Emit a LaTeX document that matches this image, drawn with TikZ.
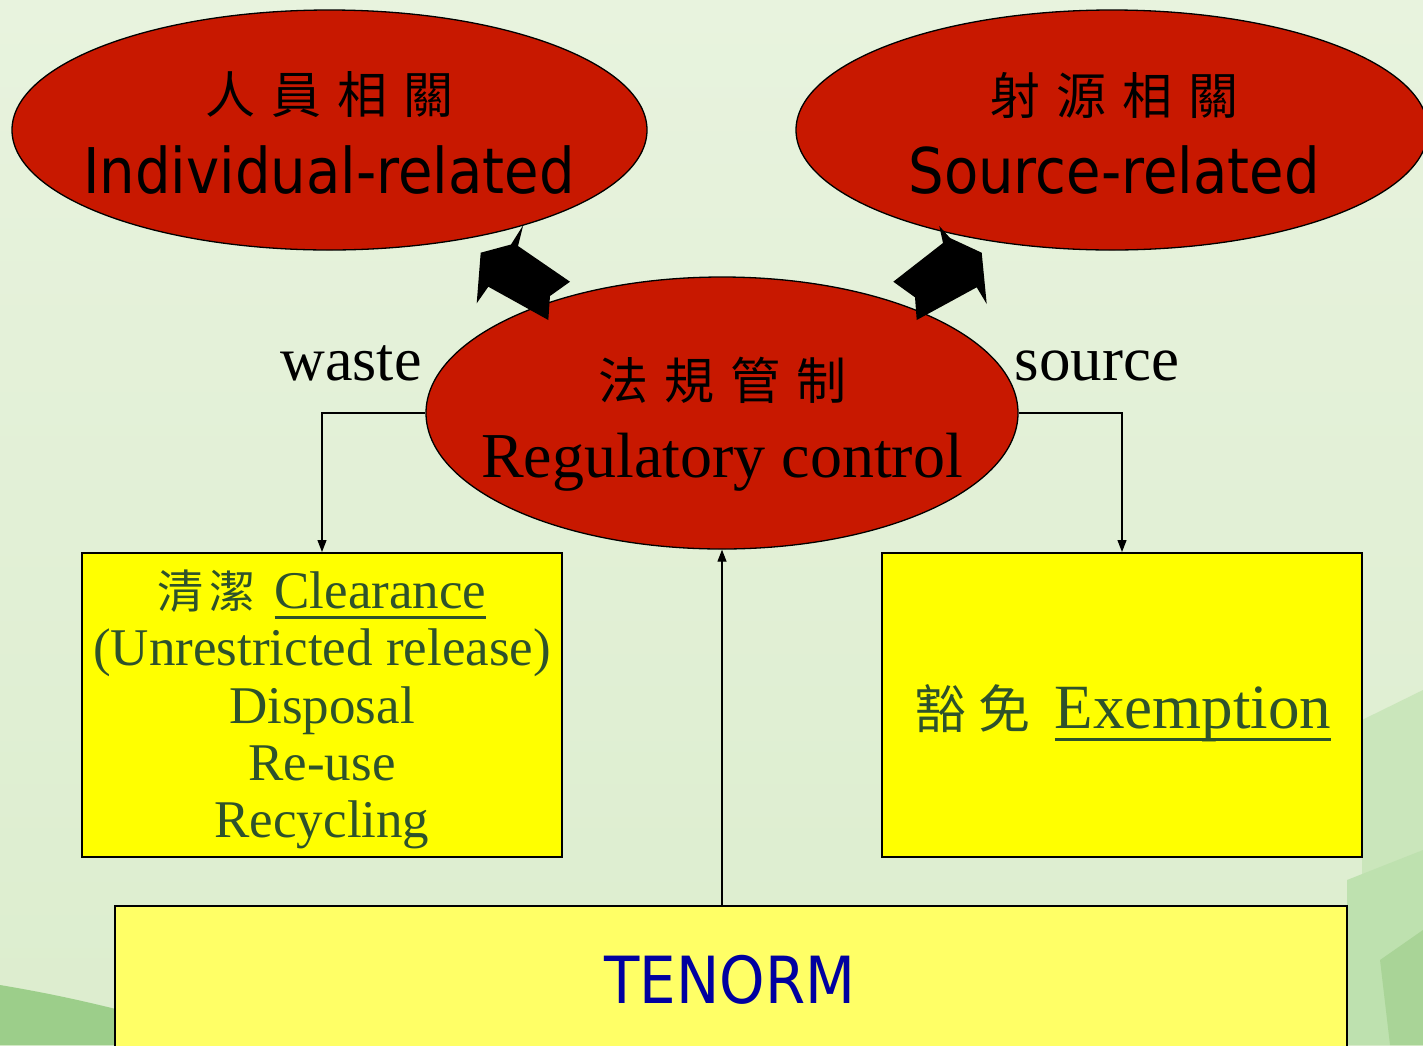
\documentclass[tikz,border=0pt]{standalone}
\usepackage{fontspec}
\setmainfont{Liberation Serif}
\newfontfamily\tah[FakeStretch=0.89]{DejaVu Sans}
\newfontfamily\cjk{Noto Sans CJK TC}
\usetikzlibrary{shapes.geometric,arrows.meta}
\definecolor{ellred}{RGB}{200,24,0}
\definecolor{boxyel}{RGB}{255,255,0}
\definecolor{tenyel}{RGB}{255,255,102}
\definecolor{txtgreen}{RGB}{46,82,44}
\definecolor{tenblue}{RGB}{0,0,160}
\definecolor{bgtop}{RGB}{232,243,222}
\definecolor{bgbot}{RGB}{220,237,206}
\definecolor{decogreen}{RGB}{135,195,115}
\definecolor{decolight}{RGB}{190,225,175}
\newcommand\myul[1]{\setbox0\hbox{#1}\rlap{\rule[-0.21em]{\wd0}{0.05em}}\box0}
\newcommand\fs[1]{\fontsize{#1}{#1}\selectfont}
\begin{document}
\begin{tikzpicture}[x=1pt,y=-1pt,
  ellnode/.style={ellipse, draw=black, line width=1.3pt, fill=ellred, inner sep=0pt},
  boxnode/.style={rectangle, draw=black, line width=2pt, inner sep=0pt},
  conn/.style={draw=black, line width=1.2pt, -{Triangle[length=12pt,width=9pt]}},
  blockarrow/.style={fill=black},
  cjklabel/.style={inner sep=0pt, font=\cjk\fs{50}},
  sanslabel/.style={inner sep=0pt, anchor=base, font=\tah\fs{63}},
  serlabel/.style={inner sep=0pt, anchor=base, font=\fs{64}},
  boxtext/.style={inner sep=0pt, anchor=base, text=txtgreen, font=\fs{53}}]
\useasboundingbox (0,0) rectangle (1423,1045);
\clip (0,0) rectangle (1423,1045);
% background
\shade[top color=bgtop, bottom color=bgbot] (0,0) rectangle (1423,1045);
\fill[decogreen!75!bgbot] (0,985) .. controls (60,995) and (100,1005) .. (140,1015) -- (140,1045) -- (0,1045) -- cycle;
\fill[decolight!60!bgbot] (1362,720) -- (1423,690) -- (1423,850) -- (1362,880) -- cycle;
\fill[decolight] (1347,880) -- (1423,850) -- (1423,1045) -- (1347,1045) -- cycle;
\fill[decogreen!60!bgbot] (1380,960) -- (1423,930) -- (1423,1045) -- (1390,1045) -- cycle;
% ellipses
\node[ellnode, minimum width=635pt, minimum height=240pt] (ind) at (329.5,130) {};
\node[ellnode, minimum width=632pt, minimum height=240pt] (src) at (1112,130) {};
\node[ellnode, minimum width=592pt, minimum height=272pt] (reg) at (722,413) {};
% ellipse texts
\node[cjklabel] (indzh) at (329,95) {人\hspace{16pt}員\hspace{16pt}相\hspace{16pt}關};
\node[sanslabel] (inden) at (329,193) {Individual-related};
\node[cjklabel] (srczh) at (1114,95) {射\hspace{16pt}源\hspace{16pt}相\hspace{16pt}關};
\node[sanslabel] (srcen) at (1114,193) {Source-related};
\node[cjklabel] (regzh) at (722,380) {法\hspace{16pt}規\hspace{16pt}管\hspace{16pt}制};
\node[serlabel] (regen) at (722,477) {Regulatory control};
% block arrows
\fill[blockarrow] (480.7,252.7) -- (511,244.5) -- (523.3,225) -- (518,246) -- (570,281.7) -- (550,296) -- (548.3,320) -- (488.3,286.7) -- (476.7,303.3) -- cycle;
\fill[blockarrow] (939.3,226) -- (950,238) -- (981.7,252.7) -- (986.7,304) -- (976.7,287.3) -- (916.7,320) -- (915,297.3) -- (893.3,281.7) -- (943,243) -- cycle;
% boxes
\node[boxnode, fill=boxyel, minimum width=480pt, minimum height=304pt] (lbox) at (322,705) {};
\node[boxnode, fill=boxyel, minimum width=480pt, minimum height=304pt] (rbox) at (1122,705) {};
\node[boxnode, fill=tenyel, minimum width=1232pt, minimum height=160pt] (ten) at (731,986) {};
% box texts
\node[boxtext] (l1) at (322,608) {{\cjk\fs{46}清\hspace{6pt}潔}\hspace{19pt}\myul{Clearance}};
\node[boxtext] (l2) at (322,665) {(Unrestricted release)};
\node[boxtext] (l3) at (322,723) {Disposal};
\node[boxtext] (l4) at (322,780) {Re-use};
\node[boxtext] (l5) at (322,837) {Recycling};
\node[boxtext, font=\fs{63}] (r1) at (1123,728) {{\cjk\fs{52}豁\hspace{12pt}免}\hspace{24pt}\myul{Exemption}};
\node[sanslabel, text=tenblue, font=\tah\fs{65}] (tentxt) at (730,1003) {TENORM};
% connectors
\draw[conn] (reg.west) -| (lbox.north);
\draw[conn] (reg.east) -| (rbox.north);
\draw[conn] (ten.north -| reg.south) -- (reg.south);
% connector labels
\node[serlabel, font=\fs{62}] (waste) at (351,380) {waste};
\node[serlabel, font=\fs{63}] (source) at (1097,380) {source};
\end{tikzpicture}
\end{document}
